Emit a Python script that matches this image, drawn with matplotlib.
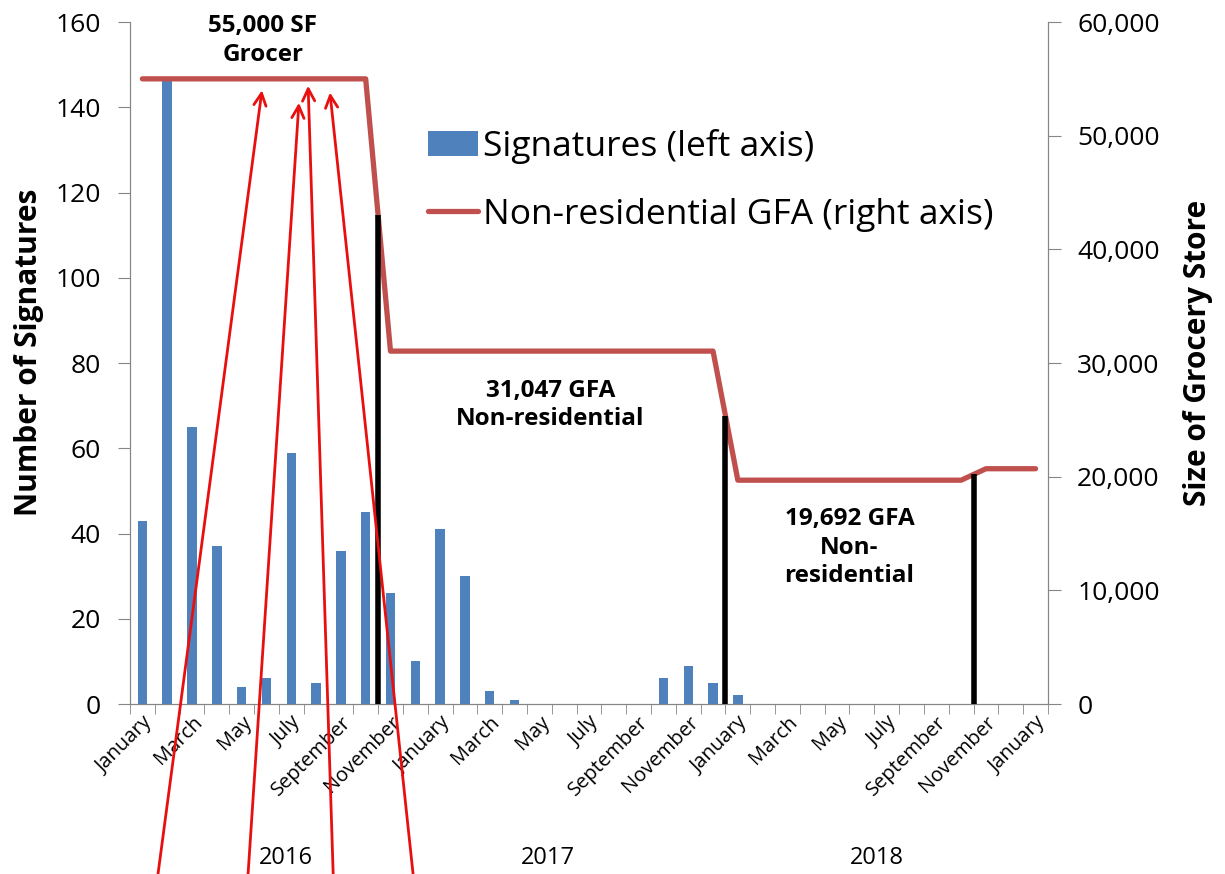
import matplotlib.pyplot as plt
import numpy as np

plt.rcParams['font.family'] = ['Open Sans', 'DejaVu Sans']

months = ['January', 'February', 'March', 'April', 'May', 'June', 'July',
          'August', 'September', 'October', 'November', 'December'] * 3 + ['January']
years = ['2016', '2017', '2018']
year_pos = [5.8, 16.35, 29.6]

signatures = [43, 147, 65, 37, 4, 6, 59, 5, 36, 45, 26, 10,
              41, 30, 3, 1, 0, 0, 0, 0, 0, 6, 9, 5,
              2, 0, 0, 0, 0, 0, 0, 0, 0, 0, 0, 0, 0]
gfa = [55000] * 10 + [31047] * 14 + [19692] * 10 + [20700] * 3
change_points = [9.5, 23.5, 33.5]

blue = '#4F81BD'
red = '#C0504D'
grey = '#868686'

x = np.arange(len(months))

fig = plt.figure(figsize=(12.25, 8.74), dpi=100)
ax = fig.add_axes([0.1061, 0.1945, 0.7494, 0.7803])
ax2 = ax.twinx()

ax.bar(x, signatures, width=0.38, color=blue, label='Signatures (left axis)', zorder=2)
ax2.plot(x, gfa, color=red, lw=3.8, solid_capstyle='round', label='Non-residential GFA (right axis)', zorder=3)

# black markers from zero up to the GFA line at each change
tops = np.interp(change_points, x, gfa)
ax2.vlines(change_points, 0, tops, color='black', lw=4, zorder=4)

ax.set_xlim(-0.5, len(months) - 0.5)
ax.set_ylim(0, 160)
ax2.set_ylim(0, 60000)
ax.set_yticks(range(0, 161, 20))
ax2.set_yticks(range(0, 60001, 10000))
ax2.set_yticklabels([f'{v:,}' for v in range(0, 60001, 10000)])

ax.set_xticks(x[::2])
ax.set_xticklabels(months[::2], rotation=45, ha='right', rotation_mode='anchor', fontsize=14.5)
ax.set_xticks(np.arange(-0.5, len(months)), minor=True)
ax.tick_params(axis='x', which='major', length=0, pad=6)
ax.tick_params(axis='x', which='minor', length=7, color=grey)
ax.tick_params(axis='y', labelsize=19, color=grey, length=9, pad=12)
ax2.tick_params(axis='y', labelsize=19, color=grey, length=9, pad=12)

for a in (ax, ax2):
    a.spines['top'].set_visible(False)
    for s in ('left', 'right', 'bottom'):
        a.spines[s].set_color(grey)

ax.set_ylabel('Number of Signatures', fontsize=21.5, fontweight='bold')
ax2.set_ylabel('Size of Grocery Store', fontsize=21.5, fontweight='bold')
ax.yaxis.set_label_coords(-0.094, 0.515)
ax2.yaxis.set_label_coords(1.147, 0.515)

for yr, xp in zip(years, year_pos):
    ax.annotate(yr, xy=(xp, 0.005), xycoords=('data', 'figure fraction'),
                ha='center', va='bottom', fontsize=17)

ax2.text(4.85, 60700, '55,000 SF\nGrocer', ha='center', va='top', fontsize=17.5,
         fontweight='bold', linespacing=1.25)
ax2.text(16.45, 28600, '31,047 GFA\nNon-residential', ha='center', va='top', fontsize=17.5,
         fontweight='bold', linespacing=1.25)
ax2.text(28.5, 17300, '19,692 GFA\nNon-\nresidential', ha='center', va='top', fontsize=17.5,
         fontweight='bold', linespacing=1.25)

# red arrows rising from below the chart to the 55,000 line
arrow_tips = [(4.82, 54000), (6.31, 52900), (6.68, 54400), (7.56, 53800)]
arrow_tails = [0.63, 4.26, 7.69, 10.91]
for (tx, ty), sx in zip(arrow_tips, arrow_tails):
    ax2.annotate('', xy=(tx, ty), xycoords='data',
                 xytext=(sx, 0), textcoords=('data', 'figure fraction'),
                 arrowprops=dict(arrowstyle='->', color='#E8100F', lw=2,
                                 mutation_scale=22, shrinkA=0, shrinkB=0),
                 annotation_clip=False, zorder=5)

h1, l1 = ax.get_legend_handles_labels()
h2, l2 = ax2.get_legend_handles_labels()
ax2.legend(h1 + h2, l1 + l2, loc='upper left', bbox_to_anchor=(0.29, 0.89),
           frameon=False, fontsize=25.5, handlelength=1.4, handletextpad=0.15,
           labelspacing=0.95)

fig.savefig('out.png', dpi=100)
